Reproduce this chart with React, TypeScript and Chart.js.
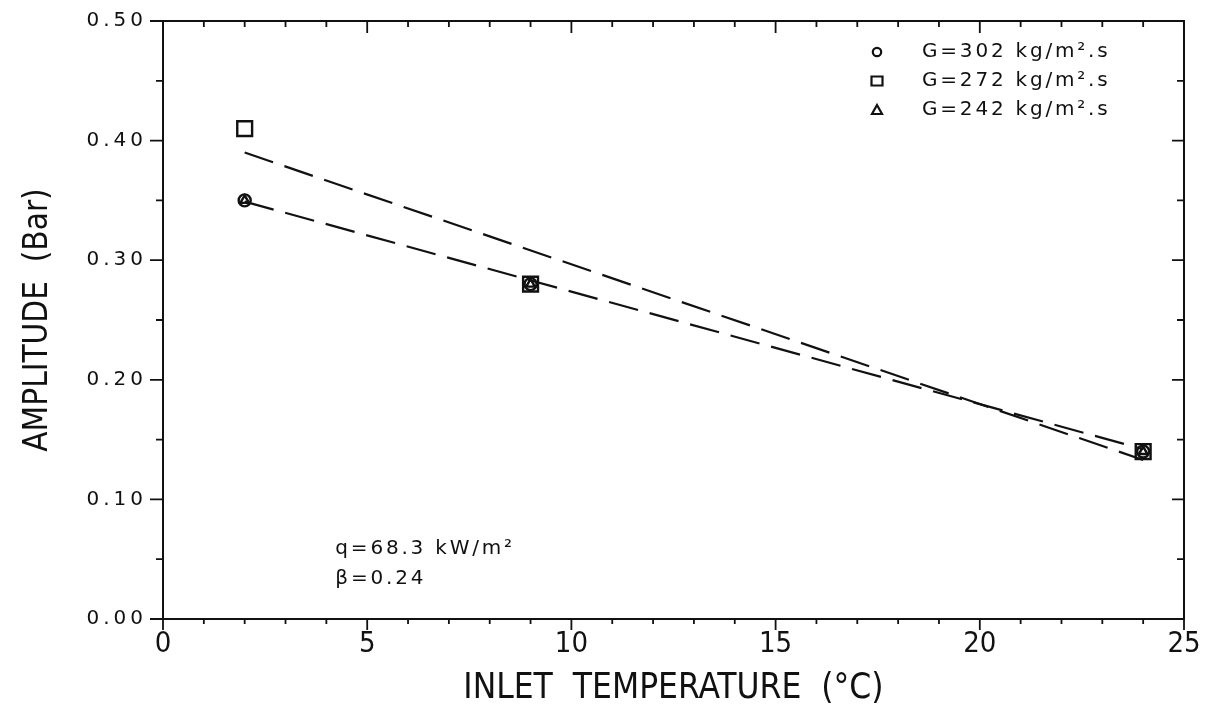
import React, { useEffect, useRef } from 'react';
import { Chart, registerables } from 'chart.js';

Chart.register(...registerables);

// ---- data ----
const temperatures = [2, 9, 24];
const ampG302 = [0.35, 0.28, 0.14];
const ampG272 = [0.41, 0.28, 0.14];
const ampG242 = [0.35, 0.28, 0.14];

const fitUpperX = [2, 24];
const fitUpperY = [0.39, 0.133];
const fitLowerX = [2, 24];
const fitLowerY = [0.349, 0.142];

const seriesLabels = ['G=302 kg/m².s', 'G=272 kg/m².s', 'G=242 kg/m².s'];
const seriesStyles = ['circle', 'rect', 'triangle'];
const xTickLabels = ['0', '5', '10', '15', '20', '25'];
const yTickLabels = ['0.00', '0.10', '0.20', '0.30', '0.40', '0.50'];
const annotationLines = ['q=68.3 kW/m²', 'β=0.24'];
const xTitle = 'INLET  TEMPERATURE  (°C)';
const yTitle = 'AMPLITUDE  (Bar)';

const INK = '#111111';
const NARROW = "'Liberation Sans Narrow', 'DejaVu Sans Condensed', 'Liberation Sans', sans-serif";
const WIDE = "'DejaVu Sans', sans-serif";

const toPoints = (xs: number[], ys: number[]) => xs.map((x, i) => ({ x, y: ys[i] }));

function drawMarker(ctx: CanvasRenderingContext2D, style: string, x: number, y: number, s: number) {
  ctx.beginPath();
  if (style === 'circle') {
    ctx.arc(x, y, s * 0.42, 0, Math.PI * 2);
  } else if (style === 'rect') {
    ctx.rect(x - s * 0.55, y - s * 0.45, s * 1.1, s * 0.9);
  } else {
    ctx.moveTo(x, y - s * 0.5);
    ctx.lineTo(x + s * 0.5, y + s * 0.4);
    ctx.lineTo(x - s * 0.5, y + s * 0.4);
    ctx.closePath();
  }
  ctx.stroke();
}

const spacingPlugin = {
  id: 'spacingPlugin',
  beforeDraw(chart: any) {
    chart.ctx.letterSpacing = '0px';
  },
  afterDatasetsDraw(chart: any) {
    // y-axis labels are drawn in a later layer (ticks.z = 1)
    chart.ctx.letterSpacing = '4px';
  },
  afterDraw(chart: any) {
    chart.ctx.letterSpacing = '0px';
  },
};

const framePlugin = {
  id: 'framePlugin',
  afterDraw(chart: any) {
    const { ctx, chartArea } = chart;
    const { left, right, top, bottom } = chartArea;
    const xs = chart.scales.x;
    const ys = chart.scales.y;
    ctx.save();
    ctx.letterSpacing = '0px';
    ctx.strokeStyle = INK;
    ctx.lineWidth = 2;
    ctx.strokeRect(left, top, right - left, bottom - top);

    ctx.lineWidth = 1.8;
    ctx.beginPath();
    for (let v = xs.min; v <= xs.max + 1e-9; v += 1) {
      const px = xs.getPixelForValue(v);
      const major = Math.abs(v % 5) < 1e-9;
      // bottom: outward
      ctx.moveTo(px, bottom);
      ctx.lineTo(px, bottom + (major ? 11 : 5));
      // top: inward
      ctx.moveTo(px, top);
      ctx.lineTo(px, top + (major ? 12 : 6));
    }
    for (let k = 0; k <= 10; k++) {
      const v = k * 0.05;
      const py = ys.getPixelForValue(v);
      const major = k % 2 === 0;
      ctx.moveTo(left, py);
      ctx.lineTo(left - (major ? 13 : 7), py);
      ctx.moveTo(right, py);
      ctx.lineTo(right - (major ? 12 : 7), py);
    }
    ctx.stroke();

    // legend
    ctx.fillStyle = INK;
    ctx.font = `20px ${WIDE}`;
    ctx.textBaseline = 'middle';
    ctx.textAlign = 'left';
    ctx.letterSpacing = '2.8px';
    const rowY = [52, 81, 110];
    chart.data.datasets.slice(0, 3).forEach((ds: any, i: number) => {
      ctx.lineWidth = 2.2;
      drawMarker(ctx, seriesStyles[i], 877, rowY[i], 10);
      ctx.fillText(ds.label, 922, rowY[i]);
    });

    // annotation
    const ax = xs.getPixelForValue(4.22);
    ctx.fillText(annotationLines[0], ax, ys.getPixelForValue(0.059));
    ctx.fillText(annotationLines[1], ax, ys.getPixelForValue(0.034));
    ctx.restore();
  },
};

export default function App() {
  const ref = useRef<HTMLCanvasElement>(null);

  useEffect(() => {
    document.body.style.margin = '0';
    const canvas = ref.current!;
    const chart = new Chart(canvas, {
      type: 'scatter',
      data: {
        datasets: [
          {
            label: seriesLabels[0],
            data: toPoints(temperatures, ampG302),
            pointStyle: 'circle',
            pointRadius: 6,
            borderColor: INK,
            backgroundColor: 'rgba(0,0,0,0)',
            borderWidth: 2.4,
            showLine: false,
          },
          {
            label: seriesLabels[1],
            data: toPoints(temperatures, ampG272),
            pointStyle: 'rect',
            pointRadius: 10.5,
            borderColor: INK,
            backgroundColor: 'rgba(0,0,0,0)',
            borderWidth: 2.4,
            showLine: false,
          },
          {
            label: seriesLabels[2],
            data: toPoints(temperatures, ampG242),
            pointStyle: 'triangle',
            pointRadius: 5,
            borderColor: INK,
            backgroundColor: 'rgba(0,0,0,0)',
            borderWidth: 2.4,
            showLine: false,
          },
          {
            label: 'fit upper',
            data: toPoints(fitUpperX, fitUpperY),
            showLine: true,
            borderColor: INK,
            borderWidth: 2.2,
            borderDash: [30, 12],
            pointRadius: 0,
          },
          {
            label: 'fit lower',
            data: toPoints(fitLowerX, fitLowerY),
            showLine: true,
            borderColor: INK,
            borderWidth: 2.2,
            borderDash: [30, 12],
            pointRadius: 0,
          },
        ],
      },
      options: {
        responsive: false,
        devicePixelRatio: 1,
        animation: false,
        layout: { padding: { left: 0, right: 27, top: 21, bottom: 0 } },
        plugins: {
          legend: { display: false },
          tooltip: { enabled: false },
        },
        scales: {
          x: {
            type: 'linear',
            min: 0,
            max: 25,
            grid: { display: true, drawOnChartArea: false, drawTicks: false },
            border: { display: false },
            ticks: {
              stepSize: 5,
              padding: 8,
              color: INK,
              font: { family: NARROW, size: 29 },
              callback: (_v: any, i: number) => xTickLabels[i] ?? '',
            },
            title: {
              display: true,
              text: xTitle,
              color: INK,
              font: { family: NARROW, size: 35 },
              padding: { top: 0, bottom: 0 },
            },
            afterFit: (s: any) => {
              s.height = 91;
              s.paddingLeft = 0;
              s.paddingRight = 0;
            },
          },
          y: {
            type: 'linear',
            position: 'left',
            weight: 0,
            min: 0,
            max: 0.5,
            grid: { display: true, drawOnChartArea: false, drawTicks: false },
            border: { display: false },
            ticks: {
              stepSize: 0.1,
              padding: 16,
              z: 1,
              color: INK,
              font: { family: WIDE, size: 20 },
              callback: (_v: any, i: number) => yTickLabels[i] ?? '',
            },
            afterFit: (s: any) => {
              s.width = 103;
              s.paddingTop = 0;
              s.paddingBottom = 0;
            },
          },
          yTitle: {
            type: 'linear',
            position: 'left',
            weight: 1,
            min: 0,
            max: 0.5,
            grid: { display: false },
            border: { display: false },
            ticks: { display: false },
            title: {
              display: true,
              text: yTitle,
              color: INK,
              font: { family: NARROW, size: 33 },
              padding: { top: 19, bottom: 0 },
            },
            afterFit: (s: any) => {
              s.width = 60;
              s.paddingTop = 0;
              s.paddingBottom = 0;
            },
          },
        },
      },
      plugins: [spacingPlugin, framePlugin],
    } as any);
    return () => chart.destroy();
  }, []);

  return (
    <div style={{ width: 1211, height: 710, background: '#fff' }}>
      <canvas ref={ref} width={1211} height={710} style={{ display: 'block' }} />
    </div>
  );
}
